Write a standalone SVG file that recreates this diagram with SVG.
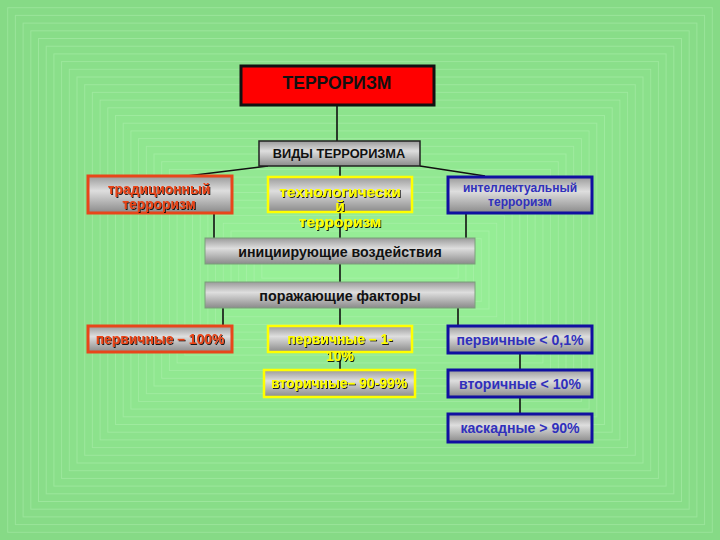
<svg xmlns="http://www.w3.org/2000/svg" width="720" height="540" viewBox="0 0 720 540">
<defs>
<linearGradient id="gray" x1="0" y1="0" x2="0" y2="1">
<stop offset="0" stop-color="#9a9a9a"/>
<stop offset="0.4" stop-color="#dedede"/>
<stop offset="1" stop-color="#8a8a8a"/>
</linearGradient>
<filter id="sh" x="-10%" y="-20%" width="120%" height="140%">
<feDropShadow dx="1" dy="1" stdDeviation="0.3" flood-color="#000" flood-opacity="0.85"/>
</filter>
<style>
.b{stroke:#c0f6c0;stroke-opacity:0.35;stroke-width:1}
text{font-family:"Liberation Sans",Arial,sans-serif;font-weight:bold;text-anchor:middle}
.box{fill:url(#gray)}
.red{stroke:#e8461a;stroke-width:3}
.yel{stroke:#ffff00;stroke-width:2.5}
.blu{stroke:#1010a0;stroke-width:3}
.plain{stroke:#7aa07a;stroke-width:1}
.tr{fill:#ea4418;filter:url(#sh)}
.ty{fill:#ffff00;filter:url(#sh)}
.tb{fill:#3030bc}
.tk{fill:#111}
.c{stroke:#111;stroke-width:1.6;fill:none}
</style>
</defs>
<g id="background">
<rect x="0" y="0" width="720" height="540" fill="#86da86"/>
<rect class="b" x="7.7" y="7.7" width="704.6" height="524.6" fill="#87db87"/>
<rect class="b" x="15.4" y="15.4" width="689.2" height="509.2" fill="#87db87"/>
<rect class="b" x="23.1" y="23.1" width="673.8" height="493.8" fill="#88dc88"/>
<rect class="b" x="30.8" y="30.8" width="658.4" height="478.4" fill="#88dd88"/>
<rect class="b" x="38.5" y="38.5" width="643" height="463" fill="#89dd89"/>
<rect class="b" x="46.2" y="46.2" width="627.6" height="447.6" fill="#89de89"/>
<rect class="b" x="53.9" y="53.9" width="612.2" height="432.2" fill="#8adf8a"/>
<rect class="b" x="61.6" y="61.6" width="596.8" height="416.8" fill="#8adf8a"/>
<rect class="b" x="69.3" y="69.3" width="581.4" height="401.4" fill="#8be08b"/>
<rect class="b" x="77" y="77" width="566" height="386" fill="#8be08b"/>
<rect class="b" x="84.7" y="84.7" width="550.6" height="370.6" fill="#8ce18c"/>
<rect class="b" x="92.4" y="92.4" width="535.2" height="355.2" fill="#8ce28c"/>
<rect class="b" x="100.1" y="100.1" width="519.8" height="339.8" fill="#8de28d"/>
<rect class="b" x="107.8" y="107.8" width="504.4" height="324.4" fill="#8de38d"/>
<rect class="b" x="115.5" y="115.5" width="489" height="309" fill="#8ee48e"/>
<rect class="b" x="123.2" y="123.2" width="473.6" height="293.6" fill="#8ee48e"/>
<rect class="b" x="130.9" y="130.9" width="458.2" height="278.2" fill="#8fe58f"/>
<rect class="b" x="138.6" y="138.6" width="442.8" height="262.8" fill="#90e690"/>
<rect class="b" x="146.3" y="146.3" width="427.4" height="247.4" fill="#90e690"/>
<rect class="b" x="154" y="154" width="412" height="232" fill="#90e790"/>
<rect class="b" x="161.7" y="161.7" width="396.6" height="216.6" fill="#91e891"/>
<rect class="b" x="169.4" y="169.4" width="381.2" height="201.2" fill="#92e892"/>
<rect class="b" x="177.1" y="177.1" width="365.8" height="185.8" fill="#92e992"/>
<rect class="b" x="184.8" y="184.8" width="350.4" height="170.4" fill="#93ea93"/>
<rect class="b" x="192.5" y="192.5" width="335" height="155" fill="#93ea93"/>
<rect class="b" x="200.2" y="200.2" width="319.6" height="139.6" fill="#94eb94"/>
<rect class="b" x="207.9" y="207.9" width="304.2" height="124.2" fill="#94eb94"/>
<rect class="b" x="215.6" y="215.6" width="288.8" height="108.8" fill="#95ec95"/>
<rect class="b" x="223.3" y="223.3" width="273.4" height="93.4" fill="#95ed95"/>
<rect class="b" x="231" y="231" width="258" height="78" fill="#96ed96"/>
<rect class="b" x="238.7" y="238.7" width="242.6" height="62.6" fill="#96ee96"/>
<rect class="b" x="246.4" y="246.4" width="227.2" height="47.2" fill="#97ef97"/>
<rect class="b" x="254.1" y="254.1" width="211.8" height="31.8" fill="#97ef97"/>
<rect class="b" x="261.8" y="261.8" width="196.4" height="16.4" fill="#98f098"/>
</g>
<g id="connectors">
<line class="c" x1="337" y1="105" x2="337" y2="141"/>
<line class="c" x1="268" y1="166" x2="187" y2="176"/>
<line class="c" x1="420" y1="166" x2="485" y2="176"/>
<line class="c" x1="340" y1="166" x2="340" y2="238"/>
<line class="c" x1="214" y1="213" x2="214" y2="238"/>
<line class="c" x1="466" y1="213" x2="466" y2="238"/>
<line class="c" x1="340" y1="264" x2="340" y2="282"/>
<line class="c" x1="223" y1="308" x2="223" y2="325"/>
<line class="c" x1="340" y1="308" x2="340" y2="370"/>
<line class="c" x1="458" y1="308" x2="458" y2="326"/>
<line class="c" x1="520" y1="353" x2="520" y2="370"/>
<line class="c" x1="520" y1="397" x2="520" y2="414"/>
</g>
<g id="n-terrorizm">
<rect x="241" y="66" width="193" height="39" fill="#ff0000" stroke="#111" stroke-width="3"/>
<text x="337" y="88.5" font-size="17.5" class="tk">ТЕРРОРИЗМ</text>
</g>
<g id="n-vidy">
<rect class="box" x="259" y="141" width="161" height="25" stroke="#222" stroke-width="1.5"/>
<text x="339" y="157.5" font-size="12.8" class="tk">ВИДЫ  ТЕРРОРИЗМА</text>
</g>
<g id="n-trad">
<rect class="box red" x="88" y="176" width="144" height="37"/>
<text x="159" y="194" font-size="13.8" class="tr">традиционный</text>
<text x="159" y="209" font-size="13.8" class="tr">терроризм</text>
</g>
<g id="n-tech">
<rect class="box yel" x="268" y="177" width="144" height="35"/>
<text x="340" y="197" font-size="15.5" class="ty">технологически</text>
<text x="340" y="211" font-size="15.5" class="ty">й</text>
<text x="340" y="227" font-size="15.5" class="ty">терроризм</text>
</g>
<g id="n-intel">
<rect class="box blu" x="448" y="177" width="144" height="36"/>
<text x="520" y="192" font-size="12" class="tb">интеллектуальный</text>
<text x="520" y="206" font-size="12" class="tb">терроризм</text>
</g>
<g id="n-init">
<rect class="box plain" x="205" y="238" width="270" height="26"/>
<text x="340" y="256.5" font-size="14.2" class="tk">инициирующие воздействия</text>
</g>
<g id="n-porazh">
<rect class="box plain" x="205" y="282" width="270" height="26"/>
<text x="340" y="300.5" font-size="14.3" class="tk">поражающие факторы</text>
</g>
<g id="n-p100">
<rect class="box red" x="88" y="326" width="144" height="26"/>
<text x="160" y="344" font-size="13.9" class="tr">первичные – 100%</text>
</g>
<g id="n-p110">
<rect class="box yel" x="268" y="326" width="144" height="26"/>
<text x="340" y="344" font-size="13.9" class="ty">первичные – 1-</text>
<text x="340" y="361" font-size="13.9" class="ty">10%</text>
</g>
<g id="n-v9099">
<rect class="box yel" x="264" y="370" width="151" height="27"/>
<text x="339" y="388" font-size="13.9" class="ty">вторичные– 90-99%</text>
</g>
<g id="n-p01">
<rect class="box blu" x="448" y="326" width="144" height="27"/>
<text x="520" y="345" font-size="14.1" class="tb">первичные &lt; 0,1%</text>
</g>
<g id="n-v10">
<rect class="box blu" x="448" y="370" width="144" height="27"/>
<text x="520" y="388.5" font-size="14.1" class="tb">вторичные &lt; 10%</text>
</g>
<g id="n-k90">
<rect class="box blu" x="448" y="414" width="144" height="28"/>
<text x="520" y="432.5" font-size="14.1" class="tb">каскадные &gt; 90%</text>
</g>
</svg>
